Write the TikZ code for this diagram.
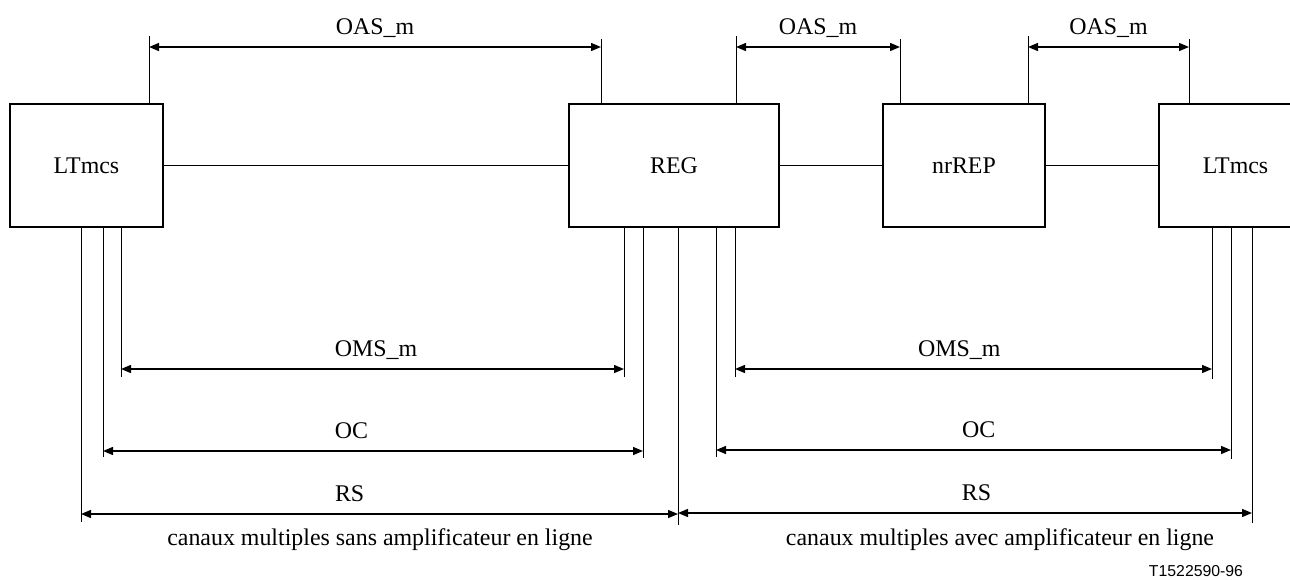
\documentclass[tikz,border=0pt]{standalone}
\usepackage{fontspec}
\setmainfont{Liberation Serif}
\setsansfont{Liberation Sans}
\usetikzlibrary{arrows.meta}

\begin{document}
\begin{tikzpicture}[x=0.2mm, y=-0.2mm, >={Triangle[length=2mm,width=1.6mm]},
  unit/.style={draw, line width=0.6pt, inner sep=0pt, minimum height=24.6mm, font=\fontsize{13.6}{16}\selectfont},
  ext/.style={line width=0.5pt},
  dim/.style={<->, line width=0.8pt},
  txt/.style={anchor=base, font=\fontsize{13.6}{16}\selectfont},
  lbl/.style={txt, yshift=2.5mm}]

\clip (0,0) rectangle (1290,579);

\node[unit, minimum width=30.6mm] (lt1) at (86.5,165.5) {LTmcs};
\node[unit, minimum width=42mm] (reg) at (674,165.5) {REG};
\node[unit, minimum width=32.4mm] (rep) at (964,165.5) {nrREP};
\node[unit, minimum width=30.6mm] (lt2) at (1235.5,165.5) {LTmcs};

\draw[ext] (lt1) -- (reg);
\draw[ext] (reg) -- (rep);
\draw[ext] (rep) -- (lt2);

% OAS_m au-dessus
\foreach \xa/\xb/\ba/\bb in {149/601/lt1/reg, 736/900/reg/rep, 1028/1189/rep/lt2} {
  \draw[ext] (\xa,36) -- (\xa,0 |- \ba.north);
  \draw[ext] (\xb,39) -- (\xb,0 |- \bb.north);
  \draw[dim] (\xa,47) -- node[lbl] (oas\xa) {OAS\_m} (\xb,47);
}

% lignes de rappel
\foreach \x/\y/\b in {81/522/lt1, 103/457/lt1, 121/377/lt1, 624/377/reg, 643/458/reg,
    678/525/reg, 716/457/reg, 735/377/reg, 1212/379/lt2, 1231/459/lt2, 1252/523/lt2}
  \draw[ext] (\x,0 |- \b.south) -- (\x,\y);

\draw[dim] (121,369) -- node[lbl, pos=.507] (oms1) {OMS\_m} (624,369);
\draw[dim] (103,451) -- node[lbl, pos=.46] (oc1) {OC} (643,451);
\draw[dim] (81,514) -- node[lbl, pos=.45] (rs1) {RS} (678,514);

\draw[dim] (735,369) -- node[lbl, pos=.47] (oms2) {OMS\_m} (1212,369);
\draw[dim] (716,450) -- node[lbl, pos=.51] (oc2) {OC} (1231,450);
\draw[dim] (678,513) -- node[lbl, pos=.52] (rs2) {RS} (1252,513);

\node[txt] (cap1) at (380,545) {canaux multiples sans amplificateur en ligne};
\node[txt] (cap2) at (1000,545) {canaux multiples avec amplificateur en ligne};
\node[anchor=base, font=\sffamily\fontsize{9}{11}\selectfont] (fig) at (1196,576) {T1522590-96};

\end{tikzpicture}
\end{document}
